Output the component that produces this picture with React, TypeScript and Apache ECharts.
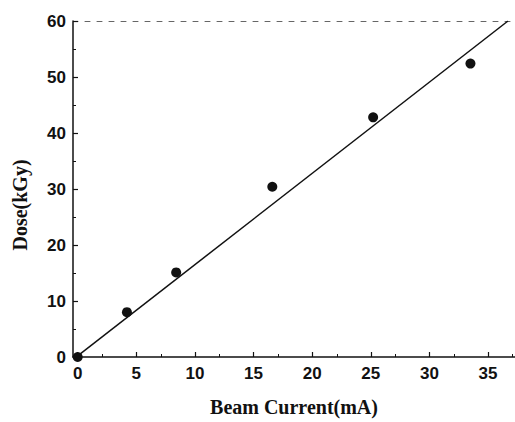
import React, { useEffect, useRef } from "react";
import * as echarts from "echarts";

const beamCurrent = [0, 4.2, 8.4, 16.6, 25.2, 33.5];
const dose = [0, 8.0, 15.1, 30.4, 42.8, 52.4];
const fitX = [0, 36.7];
const fitY = [0.2, 60];
const xTicks = [0, 5, 10, 15, 20, 25, 30, 35];

export default function App() {
  const ref = useRef<HTMLDivElement>(null);
  useEffect(() => {
    const chart = echarts.init(ref.current!, null, { renderer: "svg" });
    const labelFont = { fontFamily: "Liberation Sans", fontWeight: "bold" as const, fontSize: 17, color: "#111" };
    chart.setOption({
      animation: false,
      backgroundColor: "#fff",
      grid: { left: 73, right: 0, top: 21, bottom: 63 },
      graphic: [
        {
          type: "text",
          x: 20,
          y: 205,
          rotation: Math.PI / 2,
          style: {
            text: "Dose(kGy)",
            fontFamily: "Liberation Serif",
            fontWeight: "bold",
            fontSize: 20,
            fill: "#111",
            align: "center",
            verticalAlign: "middle",
          },
        },
      ],
      xAxis: [
        {
          type: "value",
          min: -0.4,
          max: 37.3,
          interval: 5,
          name: "Beam Current(mA)",
          nameLocation: "middle",
          nameGap: 40,
          nameTextStyle: { fontFamily: "Liberation Serif", fontWeight: "bold", fontSize: 20, color: "#111" },
          axisLine: { onZero: false, lineStyle: { color: "#111", width: 1.5 } },
          axisTick: { inside: true, length: 5, lineStyle: { color: "#111", width: 1.2 }, customValues: xTicks },
          minorTick: { show: true, splitNumber: 2, length: 3, lineStyle: { color: "#111" } },
          axisLabel: { ...labelFont, margin: 8, customValues: xTicks },
          splitLine: { show: false },
        },
        {
          type: "value",
          position: "top",
          min: -0.4,
          max: 37.3,
          axisLine: { show: true, onZero: false, lineStyle: { color: "#666", width: 1, type: [5, 7] } },
          axisTick: { show: false },
          axisLabel: { show: false },
          splitLine: { show: false },
        },
      ],
      yAxis: {
        type: "value",
        min: 0,
        max: 60,
        interval: 10,
        axisLine: { show: true, onZero: false, lineStyle: { color: "#111", width: 1.5 } },
        axisTick: { inside: true, length: 5, lineStyle: { color: "#111", width: 1.2 } },
        minorTick: { show: true, splitNumber: 2, length: 3, lineStyle: { color: "#111" } },
        axisLabel: { ...labelFont, margin: 7 },
        splitLine: { show: false },
      },
      series: [
        {
          type: "line",
          data: fitX.map((x, i) => [x, fitY[i]]),
          symbol: "none",
          lineStyle: { color: "#111", width: 1.5 },
          z: 2,
        },
        {
          type: "scatter",
          data: beamCurrent.map((x, i) => [x, dose[i]]),
          symbol: "circle",
          symbolSize: 10,
          itemStyle: { color: "#111", opacity: 1 },
          z: 3,
        },
      ],
    });
    return () => chart.dispose();
  }, []);
  return <div ref={ref} style={{ width: 515, height: 422, position: "absolute", left: 0, top: 0 }} />;
}
